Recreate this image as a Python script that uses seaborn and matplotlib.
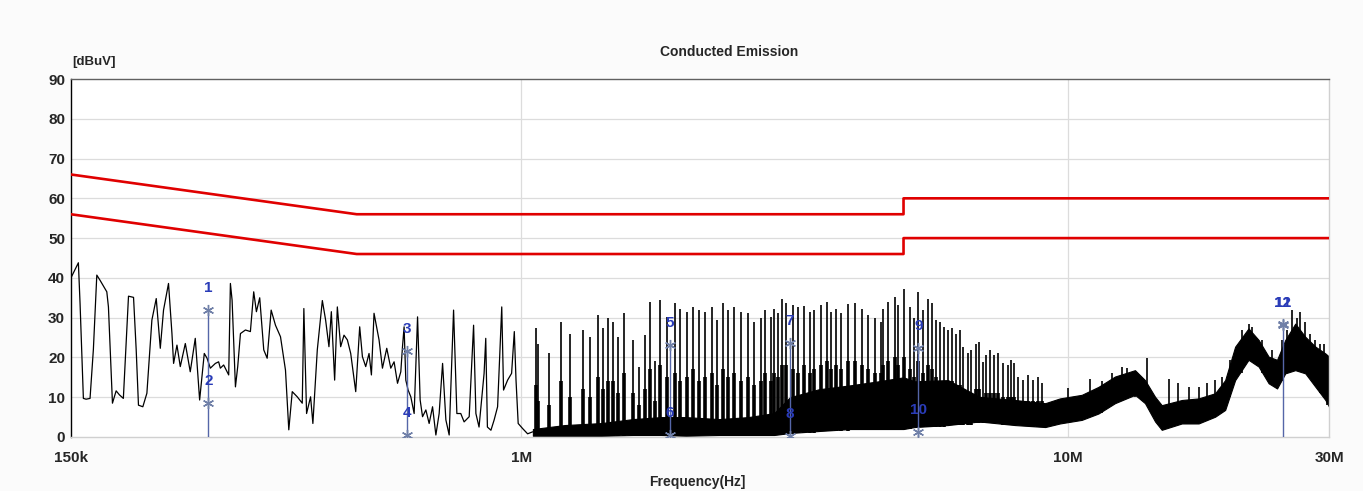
import numpy as np
import pandas as pd
import matplotlib
matplotlib.use("Agg")
import matplotlib.pyplot as plt
import seaborn as sns

# --- trace below ~1 MHz, read point by point (kHz, dBuV) ---
low_freq_khz = [150, 154.9, 156, 158.2, 160, 162.7, 165, 167.4, 169.7, 174.6,
                175.8, 178.8, 181.6, 184.1, 187.2, 191.3, 195.4, 197.6, 199.5, 203.2,
                206.7, 211.1, 215, 218.7, 221.7, 226.4, 229.7, 231.3, 234.6, 237.9,
                243, 248.1, 253.4, 258.1, 263.2, 266.3, 270, 275.8, 279.6, 281.6,
                285.6, 291.7, 293.8, 295.9, 300.1, 303, 306.5, 313, 319.6, 324.1,
                327.8, 332.4, 338.1, 343, 348.8, 355.2, 362.8, 370.5, 375.7, 381.2,
                389.3, 397.6, 400.3, 404.9, 411.8, 415.8, 423.6, 432.7, 438.7, 444.9,
                449.4, 455.7, 460.9, 467.4, 474, 480.8, 487.6, 498, 506.4, 512.2,
                519.4, 526.7, 532, 537.9, 549.4, 557.3, 567.5, 577.2, 585.3, 593.8,
                602.1, 606.4, 610.5, 614.9, 620.9, 628, 636.9, 646.1, 653.2, 659.8,
                669.1, 678.4, 688.2, 697.9, 707.6, 717.9, 727.9, 738.1, 751.9, 762.4,
                775, 786, 803, 818, 826, 837, 855, 861, 867, 880,
                892, 905, 921, 928, 944, 960, 971, 978, 987, 1006,
                1027, 1049]
low_level = [39.9, 43.8, 33.6, 9.7, 9.5, 9.7, 22, 40.7, 39.4, 36.5,
             32.7, 8.5, 11.6, 10.6, 9.7, 35.4, 35.1, 21.9, 8.0, 7.6,
             11.0, 29.4, 34.8, 22.3, 31.9, 38.6, 26, 18.5, 23.1, 17.7,
             23.5, 16.4, 24.8, 9.3, 21, 19.8, 17.3, 18.5, 18.9, 17.3,
             18.1, 15.6, 38.6, 34.4, 12.6, 17.7, 26, 26.9, 26.5, 36.5,
             31.5, 35.0, 21.9, 19.8, 31.9, 28.1, 25.2, 16.8, 1.8, 11.4,
             10.1, 8.5, 32.3, 5.9, 10.1, 3.4, 21.9, 34.3, 29.4, 22.7,
             31.5, 14.3, 32.7, 22.7, 25.6, 24.4, 21, 11.4, 27.7, 20.2,
             17.7, 21, 15.6, 31.1, 24.4, 17.3, 22.3, 17.3, 18.9, 13.5,
             16.4, 22.7, 27.7, 14.3, 11.8, 10.1, 5.9, 30.2, 9.3, 5.1,
             6.8, 3.4, 7.6, 0.5, 5.9, 18.5, 4.3, 0.5, 31.9, 5.9,
             5.9, 3.8, 5.1, 28.1, 5.9, 2.5, 16, 24.8, 2.5, 1.7,
             4.3, 7.6, 32.7, 11.8, 14.3, 16, 26.5, 14.3, 3.4, 2.1,
             0.8, 1.3]

# --- dense part of the scan: min / max envelope (MHz, dBuV) ---
band_freq_mhz = [1.05, 1.2, 1.4, 1.6, 1.8, 2.0, 2.3, 2.6, 2.9, 3.1,
                 3.5, 4.0, 4.5, 5.0, 5.24, 6.03, 6.88, 7.99, 9.08, 9.66,
                 10.59, 11.36, 12.18, 13.25, 13.82, 14.42, 14.83, 16.14, 17.32, 18.57,
                 19.37, 20.2, 21.37, 22.3, 23.26, 24.1, 24.95, 26.02, 27.14, 28.33,
                 29.54, 30.0]
band_low = [0.3, 0.3, 0.3, 0.5, 0.5, 0.3, 0.5, 0.5, 0.5, 1.0,
            1.5, 2.0, 2.0, 2.0, 2.5, 3.0, 3.9, 3.0, 2.5, 3.4,
            4.3, 5.9, 8.5, 10.6, 8.5, 3.9, 1.8, 3.4, 3.4, 5.1,
            6.8, 14.3, 19.4, 17.7, 13.5, 12.2, 16.0, 16.8, 16.0, 12.6,
            9.3, 7.6]
band_high = [2.0, 3.0, 3.5, 4.5, 5.0, 5.0, 4.5, 5.0, 6.0, 10.0,
             12.0, 13.0, 14.0, 15.0, 14.0, 14.3, 10.1, 9.3, 8.5, 9.7,
             10.6, 12.6, 15.2, 16.8, 14.3, 10.1, 8.0, 9.3, 9.7, 11.0,
             14.3, 22.7, 27.3, 24.4, 20.2, 19.4, 24.4, 28.5, 25.2, 22.7,
             21.0, 20.2]

# --- harmonic spikes (MHz): peak, foot and the level where the wide skirt ends ---
spike_freq_mhz = [1.066, 1.075, 1.126, 1.184, 1.228, 1.294, 1.335, 1.379, 1.408, 1.438,
                  1.474, 1.504, 1.542, 1.603, 1.643, 1.683, 1.721, 1.755, 1.792, 1.846,
                  1.911, 1.953, 2.009, 2.058, 2.116, 2.170, 2.229, 2.278, 2.336, 2.392,
                  2.453, 2.523, 2.595, 2.669, 2.745, 2.792, 2.863, 2.896, 2.953, 2.996,
                  3.051, 3.138, 3.204, 3.295, 3.366, 3.429, 3.525, 3.621, 3.687, 3.766,
                  3.846, 3.956, 4.079, 4.197, 4.303, 4.426, 4.539, 4.586, 4.684, 4.816,
                  4.886, 5.011, 5.132, 5.228, 5.316, 5.429, 5.545, 5.639, 5.743, 5.823,
                  5.932, 6.033, 6.136, 6.248, 6.335, 6.427, 6.564, 6.656, 6.777, 6.875,
                  6.992, 7.090, 7.189, 7.324, 7.449, 7.608, 7.748, 7.856, 7.969, 8.105,
                  8.277, 8.454, 8.634, 8.818, 8.942, 10.01, 10.97, 11.52, 12.02, 12.53,
                  12.80, 13.25, 13.92, 15.29, 15.91, 16.60, 17.32, 17.93, 18.57, 19.10,
                  19.79, 20.78, 21.4, 21.68, 22.61, 23.58, 24.61, 25.13, 25.7, 26.21,
                  26.6, 27.1, 27.73, 28.33, 28.92, 29.4, 29.8]
spike_top = [27.3, 23.5, 21.0, 29.0, 26.0, 26.9, 25.2, 30.7, 27.3, 29.8,
             29.0, 25.2, 31.2, 24.4, 17.7, 25.6, 34.0, 19.1, 34.4, 30.2,
             33.6, 32.3, 31.5, 32.7, 31.9, 31.5, 32.8, 29.4, 33.6, 31.9,
             32.7, 31.5, 31.1, 28.8, 29.8, 31.9, 30.2, 32.3, 31.1, 34.6,
             33.8, 33.2, 32.7, 32.9, 31.5, 31.9, 33.2, 34.0, 31.5, 32.1,
             31.1, 33.4, 33.6, 32.3, 30.7, 29.8, 29.0, 32.3, 34.0, 35.3,
             33.2, 37.1, 32.7, 29.8, 36.5, 31.9, 34.8, 33.6, 29.4, 29.0,
             27.7, 26.9, 27.3, 26.0, 26.9, 22.7, 21.0, 21.9, 23.5, 23.9,
             18.9, 20.6, 21.9, 20.6, 21.0, 18.5, 18.1, 19.4, 18.5, 15.2,
             14.3, 15.6, 14.3, 15.2, 13.5, 12.2, 14.7, 14.0, 16.0, 17.7,
             17.3, 16.4, 19.8, 14.7, 13.5, 12.6, 12.6, 13.5, 14.3, 15.2,
             19.4, 26.9, 28.5, 27.7, 24.4, 21.9, 24.4, 26.9, 31.9, 29.8,
             31.5, 29.0, 26.0, 24.4, 23.5, 23.5, 20.6]
spike_base = [0.3, 0.3, 0.3, 0.3, 0.3, 0.3, 0.3, 0.3, 0.3, 0.3,
              0.3, 0.3, 0.3, 0.5, 0.5, 0.5, 0.5, 0.5, 0.5, 0.5,
              0.5, 0.5, 0.5, 0.5, 0.5, 0.5, 0.5, 0.5, 0.5, 0.5,
              0.5, 0.5, 0.5, 0.5, 0.5, 0.5, 0.5, 0.5, 0.5, 0.5,
              1, 1, 1, 1, 1, 1, 1.5, 1.5, 1.5, 1.5,
              1.5, 1.5, 2, 2, 2, 2, 2, 2, 2, 2,
              2, 2, 2, 2.5, 2.5, 2.5, 2.5, 2.5, 2.5, 2.5,
              2.5, 3, 3, 3, 3, 3, 3, 3, 3.5, 3.5,
              3.5, 3.5, 3.5, 3.5, 3.5, 3, 3, 3, 3, 3,
              3, 3, 2.5, 2.5, 2.5, 4, 5, 6, 8, 9,
              10, 10, 10, 3, 3, 3.4, 3.4, 4, 5, 6,
              10, 16, 20, 19, 16, 13, 14, 16, 17, 17,
              17, 17, 15, 13, 11, 11, 8]
spike_skirt = [13, 9, 8, 14, 10, 12, 10, 15, 12, 14,
               14, 11, 16, 11, 8, 12, 17, 9, 18, 15,
               16, 14, 15, 17, 14, 15, 16, 13, 17, 15,
               16, 14, 15, 13, 14, 16, 14, 16, 15, 18,
               18, 17, 16, 18, 16, 17, 18, 19, 17, 18,
               17, 19, 19, 18, 17, 16, 16, 18, 19, 20,
               18, 20, 17, 15, 19, 16, 18, 17, 15, 14,
               14, 14, 14, 13, 13, 12, 11, 11, 12, 12,
               10, 11, 11, 11, 11, 10, 10, 10, 10, 9,
               9, 9, 9, 9, 9, 4, 5, 6, 8, 9,
               10, 10, 10, 3, 3, 3.4, 3.4, 4, 5, 6,
               10, 16, 20, 19, 16, 13, 14, 16, 17, 17,
               17, 17, 15, 13, 11, 11, 8]

# --- limit lines (QP and AV) ---
limit_freq_mhz = [0.15, 0.5, 5.0, 5.0, 30.0]
qp_limit = [66, 56, 56, 60, 60]
av_limit = [56, 46, 46, 50, 50]

# --- markers ---
marker_no = ["1", "2", "3", "4", "5", "6", "7", "8", "9", "10", "11", "12"]
marker_freq_mhz = [0.2677, 0.2677, 0.619, 0.619, 1.87, 1.87, 3.10, 3.10, 5.32, 5.32, 24.7, 24.7]
marker_level = [31.9, 8.6, 21.7, 0.5, 23.1, 0.6, 23.7, 0.3, 22.3, 1.3, 28.1, 28.3]

x_ticks_mhz = [0.15, 1, 10, 30]
x_tick_labels = ["150k", "1M", "10M", "30M"]
y_ticks = [0, 10, 20, 30, 40, 50, 60, 70, 80, 90]

sns.set_style("white")
plt.rcParams['font.family'] = ['Liberation Sans', 'DejaVu Sans']

fig = plt.figure(figsize=(13.63, 4.91), dpi=100, facecolor='#fbfbfb')
ax = fig.add_axes([0.0519, 0.110, 0.9232, 0.7291])
ax.set_facecolor('white')

ax.set_xscale('log')
ax.set_xlim(0.15, 30)
ax.set_ylim(0, 90)

# grid
for y in y_ticks[1:-1]:
    ax.axhline(y, color='#dcdcdc', lw=0.9, zorder=0)
for x in [1, 10]:
    ax.axvline(x, color='#dcdcdc', lw=0.9, zorder=0)

# limits
sns.lineplot(x=limit_freq_mhz, y=qp_limit, color='#e00000', lw=1.9,
             estimator=None, sort=False, ax=ax, zorder=3)
sns.lineplot(x=limit_freq_mhz, y=av_limit, color='#e00000', lw=1.9,
             estimator=None, sort=False, ax=ax, zorder=3)

# scan trace
low = pd.DataFrame({'freq': np.array(low_freq_khz) / 1000.0, 'level': low_level})
sns.lineplot(data=low, x='freq', y='level', color='black', lw=0.9,
             estimator=None, sort=False, ax=ax, zorder=2)
ax.fill_between(band_freq_mhz, band_low, band_high, color='black', lw=0.8, zorder=2)
ax.vlines(spike_freq_mhz, spike_base, spike_skirt, color='black', lw=2.6, zorder=2)
ax.vlines(spike_freq_mhz, spike_base, spike_top, color='black', lw=1.2, zorder=2)

# markers
for i in range(0, len(marker_no), 2):
    ax.vlines(marker_freq_mhz[i], 0, marker_level[i], color='#5566a8', lw=1.0, zorder=4)
ax.plot(marker_freq_mhz, marker_level, ls='none', marker=(6, 2, 0), ms=8,
        mec='#7080a8', mew=1.0, zorder=5)
for no, f, lv in zip(marker_no, marker_freq_mhz, marker_level):
    ax.text(f, lv + 5.5, no, color='#2a3cb8', fontsize=11, fontweight='bold',
            ha='center', va='center', zorder=6)

ax.set_xticks(x_ticks_mhz)
ax.set_xticklabels(x_tick_labels, fontsize=11, fontweight='bold')
ax.xaxis.set_minor_locator(matplotlib.ticker.NullLocator())
ax.set_yticks(y_ticks)
ax.set_yticklabels([str(v) for v in y_ticks], fontsize=11, fontweight='bold')
ax.tick_params(axis='x', length=0, pad=10)
ax.tick_params(axis='y', length=0, pad=4)
ax.set_xlabel('')
ax.set_ylabel('')

ax.spines['left'].set_color('black')
ax.spines['top'].set_color('#606060')
ax.spines['bottom'].set_color('#d0d0d0')
ax.spines['right'].set_color('#d0d0d0')
for s in ax.spines.values():
    s.set_linewidth(1.0)

fig.text(72 / 1363, 1 - 62 / 491, '[dBuV]', fontsize=9.5, fontweight='bold',
         ha='left', va='center')
fig.text(729 / 1363, 1 - 52 / 491, 'Conducted Emission', fontsize=10, fontweight='bold',
         ha='center', va='center')
fig.text(697 / 1363, 1 - 482 / 491, 'Frequency(Hz]', fontsize=10, fontweight='bold',
         ha='center', va='center')

fig.savefig('out.png', dpi=100, facecolor=fig.get_facecolor())
